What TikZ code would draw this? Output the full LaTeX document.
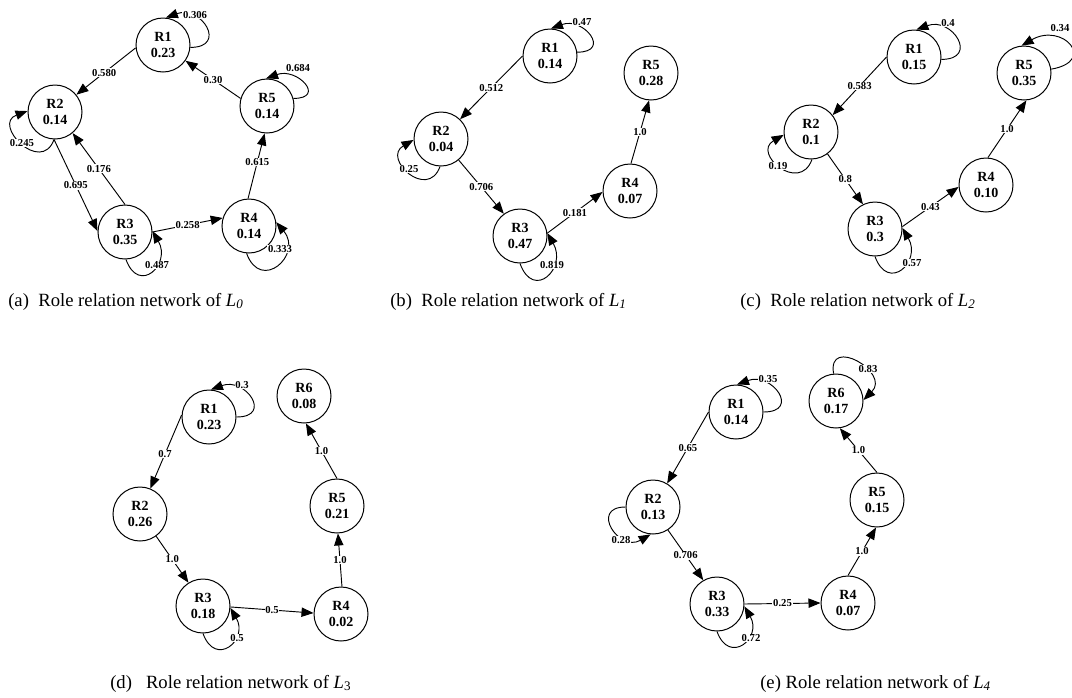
\documentclass[tikz,border=0pt]{standalone}
\usepackage{fontspec}
\setmainfont{Liberation Serif}
\usetikzlibrary{arrows.meta}
\begin{document}
\begin{tikzpicture}[x=0.75pt,y=0.75pt,
  role/.style={circle,draw,line width=0.75pt,minimum size=40.5pt,inner sep=0pt,align=center,
    font=\fontsize{10.5}{12}\selectfont\bfseries},
  lab/.style={fill=white,inner sep=0.6pt,font=\fontsize{8}{9}\selectfont\bfseries},
  edge/.style={line width=0.7pt,-{Triangle[length=9pt,width=7pt]}},
  selfloop/.style={edge,looseness=2.5},
  captext/.style={anchor=base west,inner sep=0pt,font=\fontsize{14}{16}\selectfont}]
\useasboundingbox (0,0) rectangle (1072,-697);

% ---------------- (a)
\node[role] (a1) at (163,-45) {R1\\0.23};
\node[role] (a2) at (55,-112) {R2\\0.14};
\node[role] (a3) at (125,-232) {R3\\0.35};
\node[role] (a4) at (249,-226) {R4\\0.14};
\node[role] (a5) at (267,-106) {R5\\0.14};
\draw[edge] (a1.186) -- node[lab,pos=0.53]{0.580} (a2.39);
\draw[edge] (a5.164) -- node[lab]{0.30} (a1.-35);
\draw[edge] (a2.-92) -- node[lab]{0.695} (a3.178);
\draw[edge] (a3.90) -- node[lab]{0.176} (a2.-50);
\draw[edge] (a3.0) -- node[lab]{0.258} (a4.163);
\draw[edge] (a4.92) -- node[lab,pos=0.56]{0.615} (a5.-95);
\draw[selfloop] (a1.-5) to[out=0,in=20] (a1.84);
\draw[selfloop] (a5.16) to[out=0,in=20] (a5.92);
\draw[selfloop] (a2.-92) to[out=-110,in=200] (a2.178);
\draw[selfloop] (a3.-88) to[out=-70,in=-60] (a3.2);
\draw[selfloop] (a4.-95) to[out=-70,in=-50] (a4.8);
\node[lab] (la1) at (195,-15) {0.306};
\node[lab] (la5) at (298,-68) {0.684};
\node[lab] (la2) at (22,-143) {0.245};
\node[lab] (la3) at (157,-265) {0.487};
\node[lab] (la4) at (280,-249) {0.333};

% ---------------- (b)
\node[role] (b1) at (550,-56) {R1\\0.14};
\node[role] (b2) at (441,-139) {R2\\0.04};
\node[role] (b3) at (520,-236) {R3\\0.47};
\node[role] (b4) at (630,-191) {R4\\0.07};
\node[role] (b5) at (651,-73) {R5\\0.28};
\draw[edge] (b1.180) -- node[lab]{0.512} (b2.46);
\draw[edge] (b2.-50) -- node[lab]{0.706} (b3.126);
\draw[edge] (b3.6) -- node[lab]{0.181} (b4.182);
\draw[edge] (b4.88) -- node[lab]{1.0} (b5.-94);
\draw[selfloop] (b1.8) to[out=0,in=20] (b1.88);
\draw[selfloop] (b2.-92) to[out=-110,in=210] (b2.182);
\draw[selfloop] (b3.-90) to[out=-70,in=-60] (b3.6);
\node[lab] (lb1) at (582,-22) {0.47};
\node[lab] (lb2) at (409,-169) {0.25};
\node[lab] (lb3) at (552,-265) {0.819};

% ---------------- (c)
\node[role] (c1) at (914,-57) {R1\\0.15};
\node[role] (c2) at (811,-132) {R2\\0.1};
\node[role] (c3) at (875,-229) {R3\\0.3};
\node[role] (c4) at (986,-185) {R4\\0.10};
\node[role] (c5) at (1024,-73) {R5\\0.35};
\draw[edge] (c1.180) -- node[lab]{0.583} (c2.38);
\draw[edge] (c2.-53) -- node[lab]{0.8} (c3.116);
\draw[edge] (c3.5) -- node[lab]{0.43} (c4.184);
\draw[edge] (c4.86) -- node[lab]{1.0} (c5.-85);
\draw[selfloop] (c1.-5) to[out=0,in=20] (c1.85);
\draw[selfloop,looseness=3.2] (c5.8) to[out=10,in=30] (c5.95);
\draw[selfloop] (c2.-88) to[out=-110,in=210] (c2.186);
\draw[selfloop] (c3.-90) to[out=-70,in=-60] (c3.2);
\node[lab] (lc1) at (948,-23) {0.4};
\node[lab] (lc5) at (1060,-28) {0.34};
\node[lab] (lc2) at (778,-166) {0.19};
\node[lab] (lc3) at (912,-263) {0.57};

% ---------------- (d)
\node[role] (d1) at (209,-417) {R1\\0.23};
\node[role] (d6) at (304,-396) {R6\\0.08};
\node[role] (d2) at (140,-514) {R2\\0.26};
\node[role] (d5) at (337,-506) {R5\\0.21};
\node[role] (d3) at (203,-606) {R3\\0.18};
\node[role] (d4) at (341,-614) {R4\\0.02};
\draw[edge] (d1.176) -- node[lab,pos=0.53]{0.7} (d2.68);
\draw[edge] (d2.-54) -- node[lab]{1.0} (d3.122);
\draw[edge] (d3.-2) -- node[lab]{0.5} (d4.178);
\draw[edge] (d4.88) -- node[lab]{1.0} (d5.-88);
\draw[edge] (d5.90) -- node[lab]{1.0} (d6.-86);
\draw[selfloop] (d1.0) to[out=0,in=20] (d1.86);
\draw[selfloop] (d3.-90) to[out=-70,in=-60] (d3.-4);
\node[lab] (ld1) at (242,-385) {0.3};
\node[lab] (ld3) at (237,-638) {0.5};

% ---------------- (e)
\node[role] (e1) at (736,-412) {R1\\0.14};
\node[role] (e6) at (836,-401) {R6\\0.17};
\node[role] (e2) at (653,-507) {R2\\0.13};
\node[role] (e5) at (877,-500) {R5\\0.15};
\node[role] (e3) at (717,-604) {R3\\0.33};
\node[role] (e4) at (848,-603) {R4\\0.07};
\draw[edge] (e1.180) -- node[lab]{0.65} (e2.59);
\draw[edge] (e2.-57) -- node[lab]{0.706} (e3.120);
\draw[edge] (e3.0) -- node[lab]{0.25} (e4.180);
\draw[edge] (e4.90) -- node[lab]{1.0} (e5.-92);
\draw[edge] (e5.90) -- node[lab]{1.0} (e6.-82);
\draw[selfloop] (e1.0) to[out=0,in=20] (e1.88);
\draw[selfloop] (e6.95) to[out=100,in=45] (e6.2);
\draw[selfloop] (e2.180) to[out=180,in=-150] (e2.-95);
\draw[selfloop] (e3.-90) to[out=-70,in=-60] (e3.-5);
\node[lab] (le1) at (768,-379) {0.35};
\node[lab] (le6) at (868,-369) {0.83};
\node[lab] (le2) at (621,-540) {0.28};
\node[lab] (le3) at (751,-638) {0.72};

% ---------------- captions
\node[captext] (capa) at (8,-306) {(a)\ \ Role relation network of \textit{L\textsubscript{0}}};
\node[captext] (capb) at (390,-306) {(b)\ \ Role relation network of \textit{L\textsubscript{1}}};
\node[captext] (capc) at (740,-306) {(c)\ \ Role relation network of \textit{L\textsubscript{2}}};
\node[captext] (capd) at (110,-688) {(d)\ \ \ Role relation network of \textit{L}\textsubscript{3}};
\node[captext] (cape) at (760,-688) {(e) Role relation network of \textit{L\textsubscript{4}}};
\end{tikzpicture}
\end{document}
